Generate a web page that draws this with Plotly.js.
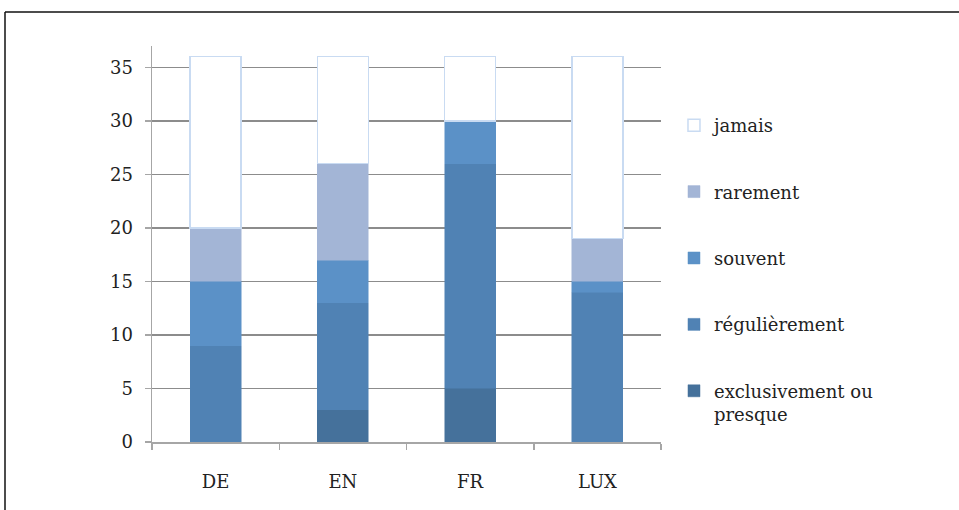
<!DOCTYPE html>
<html>
<head>
<meta charset="utf-8">
<script src="https://cdn.plot.ly/plotly-3.0.1.min.js"></script>
<style>html,body{margin:0;padding:0;background:#fff;}#chart{width:959px;height:510px;}</style>
</head>
<body>
<div id="chart"></div>
<script>
const categories = ["DE", "EN", "FR", "LUX"];
const seriesNames = ["exclusivement ou<br>presque", "régulièrement", "souvent", "rarement", "jamais"];
const exclusivement = [0, 3, 5, 0];
const regulierement = [9, 10, 21, 14];
const souvent = [6, 4, 4, 1];
const rarement = [5, 9, 0, 4];
const jamais = [16, 10, 6, 17];
const yTicks = [0, 5, 10, 15, 20, 25, 30, 35];

const seriesValues = [exclusivement, regulierement, souvent, rarement, jamais];
const fills = ["#45719b", "#5082b4", "#5b91c7", "#a3b5d6", "#ffffff"];
const borders = ["#45719b", "#5082b4", "#5b91c7", "#a3b5d6", "#c9dbf2"];

const traces = seriesValues.map((vals, i) => ({
  type: "bar",
  name: seriesNames[i],
  x: categories,
  y: vals,
  legendgroup: "g" + i,
  legendrank: seriesValues.length - i,
  marker: {color: fills[i], line: {color: borders[i], width: i === 4 ? 1.5 : 0.5}},
  hoverinfo: "x+y+name"
}));

const FONT = "DejaVu Serif, serif";
const layout = {
  width: 959, height: 510,
  margin: {l: 152, r: 298, t: 46, b: 68},
  paper_bgcolor: "#ffffff", plot_bgcolor: "#ffffff",
  barmode: "stack",
  bargap: 0.6,
  font: {family: FONT, size: 18, color: "#222"},
  xaxis: {
    type: "category",
    showline: true, linecolor: "#a6a6a6", linewidth: 1.5,
    ticks: "outside", tickson: "boundaries", ticklen: 6, tickcolor: "#a6a6a6", tickwidth: 1.5,
    ticklabelstandoff: 23,
    showgrid: false, zeroline: false,
    tickfont: {family: FONT, size: 18, color: "#222"}
  },
  yaxis: {
    range: [0, 37],
    tickvals: yTicks,
    showline: true, linecolor: "#a6a6a6", linewidth: 1.5,
    ticks: "outside", ticklen: 6, tickcolor: "#a6a6a6", tickwidth: 1.5,
    ticklabelstandoff: 8,
    showgrid: true, gridcolor: "#8c8c8c", gridwidth: 1.2,
    zeroline: false,
    tickfont: {family: FONT, size: 18, color: "#222"}
  },
  legend: {
    x: 1.0255, xanchor: "left",
    y: 0.846, yanchor: "top",
    traceorder: "grouped",
    tracegroupgap: 40,
    valign: "top",
    font: {family: FONT, size: 18, color: "#222"},
    bgcolor: "rgba(0,0,0,0)"
  },
  shapes: [
    {type: "line", xref: "paper", yref: "paper", x0: -0.2888, x1: 1.6, y0: 1.0859, y1: 1.0859, line: {color: "#111", width: 1.5}},
    {type: "line", xref: "paper", yref: "paper", x0: -0.2888, x1: -0.2888, y0: 1.0859, y1: -0.2, line: {color: "#111", width: 1.5}}
  ],
  showlegend: true
};

Plotly.newPlot("chart", traces, layout, {displayModeBar: false, staticPlot: true});
</script>
</body>
</html>
